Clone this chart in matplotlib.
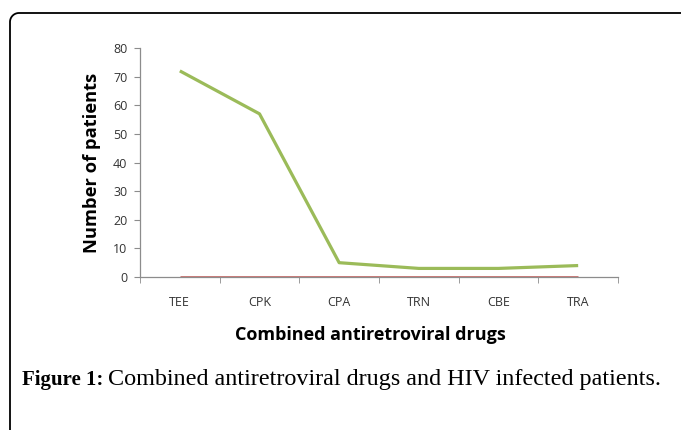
import matplotlib
matplotlib.use("Agg")
import numpy as np
import matplotlib.pyplot as plt
from matplotlib.lines import Line2D

categories = ["TEE", "CPK", "CPA", "TRN", "CBE", "TRA"]
patients = [72, 57, 5, 3, 3, 4]
baseline = [0, 0, 0, 0, 0, 0]
yticks = [0, 10, 20, 30, 40, 50, 60, 70, 80]

W, H = 681, 430
fig = plt.figure(figsize=(W / 100, H / 100), dpi=100)
fig.patch.set_facecolor("white")

# frame: left and top edges with a rounded top-left corner (pixel coords, y down)
fx, fy, rad = 10, 13, 9
theta = np.linspace(np.pi, 1.5 * np.pi, 20)
arc_x = fx + rad + rad * np.cos(theta)
arc_y = fy + rad + rad * np.sin(theta)
px = np.concatenate([[fx], arc_x, [W + 5]])
py = np.concatenate([[H + 5], arc_y, [fy]])
fig.add_artist(Line2D(px / W, 1 - py / H, transform=fig.transFigure,
                      color="black", linewidth=1.3))

ax = fig.add_axes([140 / W, 1 - 277 / H, 478 / W, 229 / H])
x = list(range(len(categories)))
ax.plot(x, baseline, color="#C0504D", linewidth=1.8, solid_capstyle="butt")
ax.plot(x, patients, color="#9BBB59", linewidth=2.3, solid_capstyle="butt")

ax.set_xlim(-0.5, len(categories) - 0.5)
ax.set_ylim(0, 80)
ax.set_yticks(yticks)
ax.set_yticklabels([str(v) for v in yticks])
ax.set_xticks(x)
ax.set_xticklabels(categories)
ax.set_xticks([i - 0.5 for i in range(len(categories) + 1)], minor=True)

for s in ["top", "right"]:
    ax.spines[s].set_visible(False)
for s in ["left", "bottom"]:
    ax.spines[s].set_color("#8C8C8C")
    ax.spines[s].set_linewidth(0.9)

ax.tick_params(axis="y", which="major", direction="out", length=4, color="#8C8C8C",
               labelsize=9, labelcolor="#333333", pad=5)
ax.tick_params(axis="x", which="major", length=0, labelsize=9, labelcolor="#333333", pad=14)
ax.tick_params(axis="x", which="minor", direction="out", length=4, color="#8C8C8C")
for lab in ax.get_xticklabels() + ax.get_yticklabels():
    lab.set_family("Open Sans")

ax.set_ylabel("Number of patients", fontsize=13.2, fontweight="bold",
              family="Open Sans", color="black")
ax.yaxis.set_label_coords((92 - 140) / 478, 0.5)
ax.yaxis.label.set_va("center")
ax.set_xlabel("Combined antiretroviral drugs", fontsize=13, fontweight="bold",
              family="Open Sans", color="black")
ax.xaxis.set_label_coords((370 - 140) / 478, (277 - 335) / 229)
ax.xaxis.label.set_va("center")

base_y = 1 - 385 / H
t1 = fig.text(22 / W, base_y, "Figure 1:", fontsize=15, fontweight="bold",
              family="Liberation Serif", va="baseline", ha="left")
t2 = fig.text(103 / W, base_y, "Combined antiretroviral drugs and HIV infected patients.",
              fontsize=17.4, family="Liberation Serif", va="baseline", ha="left")

fig.canvas.draw()
r = fig.canvas.get_renderer()
bb1 = t1.get_window_extent(r)
t2.set_x((bb1.x1 + 5) / W)

fig.savefig("out.png", dpi=100, facecolor="white")
